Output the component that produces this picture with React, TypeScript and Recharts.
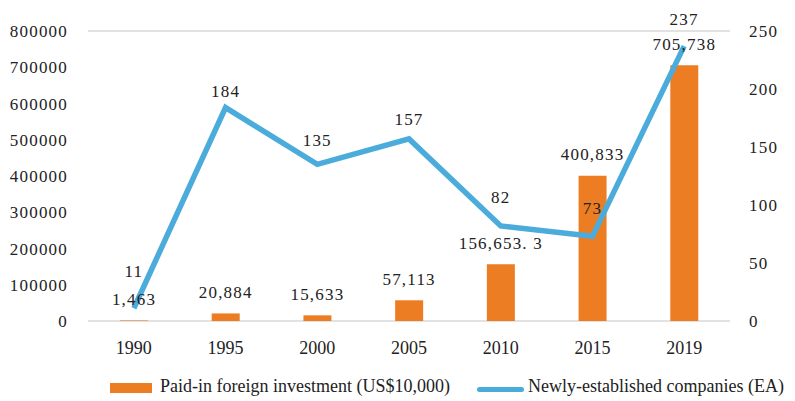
import { Bar, CartesianGrid, ComposedChart, LabelList, Legend, Line, XAxis, YAxis } from "recharts";

const years = ["1990", "1995", "2000", "2005", "2010", "2015", "2019"];
const investment = [1463, 20884, 15633, 57113, 156653.3, 400833, 705738];
const investmentLabels = ["1,463", "20,884", "15,633", "57,113", "156,653. 3", "400,833", "705,738"];
const companies = [11, 184, 135, 157, 82, 73, 237];
const leftTicks = [0, 100000, 200000, 300000, 400000, 500000, 600000, 700000, 800000];
const rightTicks = [0, 50, 100, 150, 200, 250];

// how far each line label sits above its point (hand-placed in the original)
const lineLabelLift = [37, 16, 24, 19, 28, 28, 27];

const data = years.map((year, i) => ({
  year,
  investment: investment[i],
  companies: companies[i],
}));

const ORANGE = "#ED7D22";
const BLUE = "#4BACDC";
const FONT = "Liberation Serif";
const numStyle = { fontFamily: FONT, fontSize: 17, fill: "#222", letterSpacing: 1.2 };

function BarValue(props: any) {
  const { x, y, width, index } = props;
  return (
    <text x={x + width / 2} y={y - 21} textAnchor="middle" dominantBaseline="central" style={numStyle}>
      {investmentLabels[index]}
    </text>
  );
}

function LineValue(props: any) {
  const { x, y, value, index } = props;
  return (
    <text x={x} y={y - lineLabelLift[index]} textAnchor="middle" dominantBaseline="central" style={numStyle}>
      {value}
    </text>
  );
}

function LegendBox() {
  return (
    <div style={{ position: "relative", height: 40, fontFamily: FONT, fontSize: 18, color: "#222" }}>
      <div style={{ position: "absolute", left: 110, top: 22, width: 42, height: 10, background: ORANGE }} />
      <div style={{ position: "absolute", left: 160, top: 15, whiteSpace: "nowrap" }}>Paid-in foreign investment (US$10,000)</div>
      <div style={{ position: "absolute", left: 477, top: 26, width: 47, height: 5, borderRadius: 2.5, background: BLUE }} />
      <div style={{ position: "absolute", left: 528, top: 15, whiteSpace: "nowrap" }}>Newly-established companies (EA)</div>
    </div>
  );
}

export default function App() {
  return (
    <div style={{ position: "absolute", left: 0, top: 0, background: "#fff" }}>
      <ComposedChart width={795} height={401} data={data} margin={{ top: 31, right: 0, bottom: 0, left: 0 }}>
        <CartesianGrid stroke="#d9d9d9" strokeWidth={1.5} vertical={false} />
        <XAxis
          dataKey="year"
          axisLine={false}
          tickLine={false}
          tickSize={0}
          tickMargin={20}
          height={40}
          tick={{ fontFamily: FONT, fontSize: 18, fill: "#222" }}
        />
        <YAxis
          yAxisId="left"
          domain={[0, 800000]}
          ticks={leftTicks}
          axisLine={false}
          tickLine={false}
          tickSize={0}
          tickMargin={20}
          width={88}
          tick={numStyle}
        />
        <YAxis
          yAxisId="right"
          orientation="right"
          domain={[0, 250]}
          ticks={rightTicks}
          axisLine={false}
          tickLine={false}
          tickSize={0}
          tickMargin={19}
          width={65}
          tick={{ ...numStyle, textAnchor: "start" }}
        />
        <Legend verticalAlign="bottom" content={() => <LegendBox />} wrapperStyle={{ left: 0, bottom: 0, width: 795, height: 40 }} />
        <Bar yAxisId="left" dataKey="investment" fill={ORANGE} barSize={28} isAnimationActive={false}>
          <LabelList dataKey="investment" content={BarValue} />
        </Bar>
        <Line
          yAxisId="right"
          dataKey="companies"
          stroke={BLUE}
          strokeWidth={5.5}
          dot={false}
          activeDot={false}
          isAnimationActive={false}
        >
          <LabelList dataKey="companies" content={LineValue} />
        </Line>
      </ComposedChart>
    </div>
  );
}
